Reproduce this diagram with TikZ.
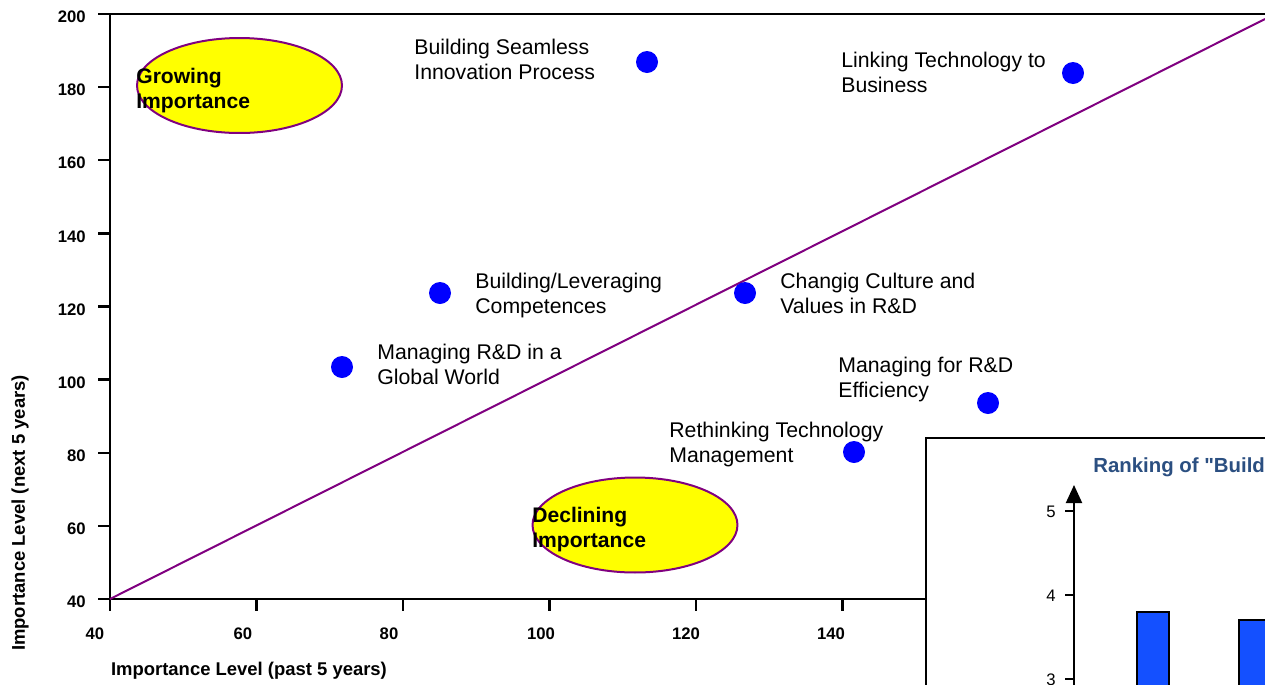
\documentclass[tikz,border=0pt]{standalone}
\usepackage{fontspec}
\setmainfont{Liberation Sans}
\newfontfamily\ttlfont{Liberation Sans}
\usetikzlibrary{arrows.meta,shapes.geometric}
\definecolor{ppl}{RGB}{128,0,128}
\definecolor{dotblue}{RGB}{0,0,255}
\definecolor{barblue}{RGB}{20,80,255}
\definecolor{ttl}{RGB}{43,79,129}
\definecolor{ylw}{RGB}{255,255,0}
\begin{document}
\begin{tikzpicture}[x=0.02cm,y=-0.02cm,
  axisline/.style={line width=0.05cm,black},
  diag/.style={line width=0.04cm,ppl},
  dot/.style={circle,fill=dotblue,inner sep=0pt,minimum size=0.44cm},
  lbl/.style={anchor=north west,inner sep=0pt,align=left,font=\fontsize{12.1}{14.2}\selectfont},
  zone/.style={ellipse,draw=ppl,line width=0.04cm,fill=ylw,minimum width=4.1cm,minimum height=1.9cm,inner sep=0pt},
  zonetxt/.style={anchor=north west,inner sep=0pt,align=left,font=\fontsize{12}{14.2}\selectfont\bfseries},
  ytick/.style={anchor=east,inner sep=0pt,font=\fontsize{9.5}{11}\selectfont\bfseries},
  xtick/.style={anchor=center,inner sep=0pt,font=\fontsize{9.5}{11}\selectfont\bfseries},
  axtitle/.style={inner sep=0pt,font=\fontsize{10.5}{12}\selectfont\bfseries},
  bar/.style={draw=black,line width=0.035cm,fill=barblue},
  small/.style={anchor=east,inner sep=0pt,font=\fontsize{9.5}{11}\selectfont}]
\useasboundingbox (0,0) rectangle (1265,684);
\clip (0,0) rectangle (1265,684);
% main frame and axes
\coordinate (o) at (110,599);
\coordinate (ytop) at (110,14);
\coordinate (tr) at (1265,14);
\coordinate (xr) at (1000,599);
\draw[axisline] (xr) -- (o) -- (ytop) -- (tr);
% y ticks
\foreach \v/\yy in {200/14,180/87.1,160/160.2,140/233.3,120/306.5,100/379.6,80/452.8,60/525.9,40/599}{
  \draw[axisline] (98,\yy) -- (110,\yy);
  \node[ytick] (yt\v) at (86,\yy+3) {\v};
}
% x ticks
\foreach \v/\xx/\lx in {40/110/95,60/256.5/243,80/403/389,100/549.5/541,120/696/686,140/842.5/831}{
  \draw[axisline] (\xx,599) -- (\xx,611);
  \node[xtick] (xt\v) at (\lx,634) {\v};
}
\node[axtitle] (xtitle) at (249,671) {Importance Level (past 5 years)};
\node[axtitle,rotate=90] (ytitle) at (20,513) {Importance Level (next 5 years)};
% diagonal
\coordinate (dend) at (1265,19);
\draw[diag] (o) -- (dend);
% zones
\node[zone] (grow) at (239.5,85.5) {};
\node[zonetxt] (growt) at (136,68) {Growing\\Importance};
\node[zone] (decl) at (635,525) {};
\node[zonetxt] (declt) at (532,507) {Declining\\Importance};
% points
\node[dot] (p1) at (647,62) {};
\node[dot] (p2) at (1073,73) {};
\node[dot] (p3) at (440,293) {};
\node[dot] (p4) at (745,293) {};
\node[dot] (p5) at (342,367) {};
\node[dot] (p6) at (988,403) {};
\node[dot] (p7) at (854,452) {};
\node[lbl] (l1) at (414,39) {Building Seamless\\Innovation Process};
\node[lbl] (l2) at (841,52) {Linking Technology to\\Business};
\node[lbl] (l3) at (475,273) {Building/Leveraging\\Competences};
\node[lbl] (l4) at (780,273) {Changig Culture and\\Values in R\&D};
\node[lbl] (l5) at (377,344) {Managing R\&D in a\\Global World};
\node[lbl] (l6) at (838,357) {Managing for R\&D\\Efficiency};
\node[lbl] (l7) at (669,422) {Rethinking Technology\\Management};
% inset
\draw[line width=0.05cm,fill=white] (926,438) rectangle (1300,720);
\node[anchor=west,inner sep=0pt,text=ttl,font=\ttlfont\fontsize{11.6}{13}\selectfont\bfseries] (ttl) at (1093,467) {Ranking of "Build};
\coordinate (bbot) at (1074,700);
\coordinate (btop) at (1074,485);
\draw[line width=0.04cm,-{Triangle[width=0.32cm,length=0.36cm]}] (bbot) -- (btop);
\foreach \v/\yy in {5/511,4/595,3/679}{
  \draw[line width=0.04cm] (1065,\yy) -- (1074,\yy);
  \node[small] (bt\v) at (1056,\yy+1) {\v};
}
\draw[bar] (1137,612) rectangle (1169,700);
\draw[bar] (1239,620) rectangle (1275,700);
\end{tikzpicture}
\end{document}
